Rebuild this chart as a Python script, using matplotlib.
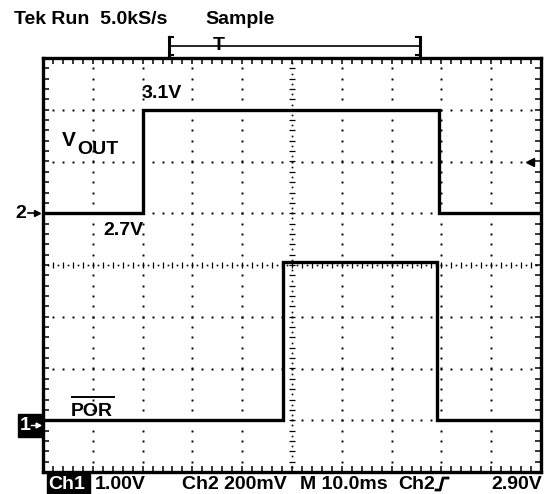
import matplotlib
matplotlib.use("Agg")
import matplotlib.pyplot as plt
import numpy as np
from matplotlib.lines import Line2D
from matplotlib.patches import Rectangle

plt.rcParams['font.family'] = ['Liberation Sans', 'DejaVu Sans']
plt.rcParams['font.weight'] = 'bold'

# scope settings
ch1_scale = 1.0      # V/div
ch1_offset = -3.0    # div (0V position)
ch2_scale = 0.2      # V/div
ch2_ref = 2.5        # V at centre line
trig_level = 2.90

# waveforms, time in ms (10 ms/div)
vout_t = [0, 20.0, 20.0, 79.5, 79.5, 100]
vout_v = [2.7, 2.7, 3.1, 3.1, 2.7, 2.7]
por_t = [0, 48.1, 48.1, 79.1, 79.1, 100]
por_v = [0.0, 0.0, 3.05, 3.05, 0.0, 0.0]

W, H = 548, 494


def fx(x):
    return x / W


def fy(y):
    return 1 - y / H


fig = plt.figure(figsize=(W / 100, H / 100), dpi=100)
ax = fig.add_axes([fx(43), fy(472), 498 / W, 414 / H])
ax.set_xlim(0, 100)
ax.set_ylim(-4, 4)
for s in ax.spines.values():
    s.set_linewidth(2.4)
ax.set_xticks(np.arange(0, 100.1, 2))
ax.set_yticks(np.arange(-4, 4.01, 0.2))
ax.tick_params(direction='in', length=4, width=1.1, top=True, right=True,
               labelbottom=False, labelleft=False)

# dotted graticule
ys = np.arange(-4, 4.01, 0.2)
xs = np.arange(0, 100.1, 2)
for gx in range(10, 100, 10):
    if gx == 50:
        continue
    ax.plot(np.full_like(ys, gx), ys, ls='none', marker='s', ms=1.4, color='k', mew=0)
for gy in [-3, -2, -1, 1, 2, 3]:
    ax.plot(xs, np.full_like(xs, gy), ls='none', marker='s', ms=1.4, color='k', mew=0)
# centre lines with small ticks
ax.plot(np.full_like(ys, 50), ys, ls='none', marker='_', ms=5, mew=0.9, color='k')
ax.plot(xs, np.zeros_like(xs), ls='none', marker='|', ms=5, mew=0.9, color='k')
ys2 = np.arange(-3.9, 4, 0.2)
xs2 = np.arange(1, 100, 2)
ax.plot(np.full_like(ys2, 50), ys2, ls='none', marker='s', ms=1.2, color='k', mew=0)
ax.plot(xs2, np.zeros_like(xs2), ls='none', marker='s', ms=1.2, color='k', mew=0)

# traces
vout_div = (np.array(vout_v) - ch2_ref) / ch2_scale
por_div = np.array(por_v) / ch1_scale + ch1_offset
ax.plot(vout_t, vout_div, color='k', lw=2.4, solid_joinstyle='miter')
ax.plot(por_t, por_div, color='k', lw=2.4, solid_joinstyle='miter')

# trigger level marker on right
ax.plot([97.8], [(trig_level - ch2_ref) / ch2_scale], marker='<', ms=6, color='k',
        clip_on=False)

fs = 14
# header
fig.text(fx(14), fy(20), 'Tek Run  5.0kS/s', fontsize=fs, va='center', ha='left')
fig.text(fx(205), fy(20), 'Sample', fontsize=fs, va='center', ha='left')

# trigger position bracket
def fline(xa, ya, xb, yb, lw=1.3):
    fig.add_artist(Line2D([fx(xa), fx(xb)], [fy(ya), fy(yb)], color='k', lw=lw,
                          transform=fig.transFigure))

fline(169, 46, 420, 46, 1.2)
fline(169, 37, 169, 55, 2.2)
fline(169, 37, 173, 37, 1.5)
fline(169, 55, 173, 55, 1.5)
fline(420, 37, 420, 55, 2.2)
fline(416, 37, 420, 37, 1.5)
fline(416, 55, 420, 55, 1.5)
fig.text(fx(219), fy(46), 'T', fontsize=14, va='center', ha='center')

# labels
fig.text(fx(142), fy(93), '3.1V', fontsize=fs, va='center', ha='left')
fig.text(fx(62), fy(141), 'V', fontsize=15, va='center', ha='left')
fig.text(fx(77), fy(149), 'OUT', fontsize=fs, va='center', ha='left')
fig.text(fx(103), fy(230), '2.7V', fontsize=fs, va='center', ha='left')
fig.text(fx(71), fy(411), 'POR', fontsize=fs, va='center', ha='left')
fline(72, 397, 114, 397, 1.4)

# channel markers
fig.text(fx(15), fy(213), '2', fontsize=fs, va='center', ha='left')
fig.add_artist(Line2D([fx(28), fx(36)], [fy(213), fy(213)], color='k', lw=1.2,
                      transform=fig.transFigure))
fig.add_artist(Line2D([fx(37)], [fy(213)], marker='>', ms=5, color='k',
                      transform=fig.transFigure))
fig.add_artist(Rectangle((fx(18), fy(437)), 24 / W, 23 / H, color='k',
                         transform=fig.transFigure))
fig.text(fx(20), fy(425), '1', fontsize=fs, va='center', ha='left', color='w')
fig.add_artist(Line2D([fx(31), fx(37)], [fy(425), fy(425)], color='w', lw=1,
                      transform=fig.transFigure))
fig.add_artist(Line2D([fx(38)], [fy(425)], marker='>', ms=3.5, color='w',
                      transform=fig.transFigure))

# bottom status line
yb = 484
fig.add_artist(Rectangle((fx(47), fy(494)), 43 / W, 20 / H, color='k',
                         transform=fig.transFigure))
fig.text(fx(48), fy(yb), 'Ch1', fontsize=fs, va='center', ha='left', color='w')
fig.text(fx(95), fy(yb), '1.00V', fontsize=fs, va='center', ha='left')
fig.text(fx(182), fy(yb), 'Ch2 200mV', fontsize=fs, va='center', ha='left')
fig.text(fx(300), fy(yb), 'M 10.0ms', fontsize=fs, va='center', ha='left')
fig.text(fx(398), fy(yb), 'Ch2', fontsize=fs, va='center', ha='left')
fig.add_artist(Line2D([fx(436), fx(440), fx(443), fx(448)],
                      [fy(490), fy(490), fy(478), fy(478)], color='k', lw=2,
                      transform=fig.transFigure))
fig.text(fx(542), fy(yb), '2.90V', fontsize=fs, va='center', ha='right')

fig.savefig('out.png', dpi=100)
